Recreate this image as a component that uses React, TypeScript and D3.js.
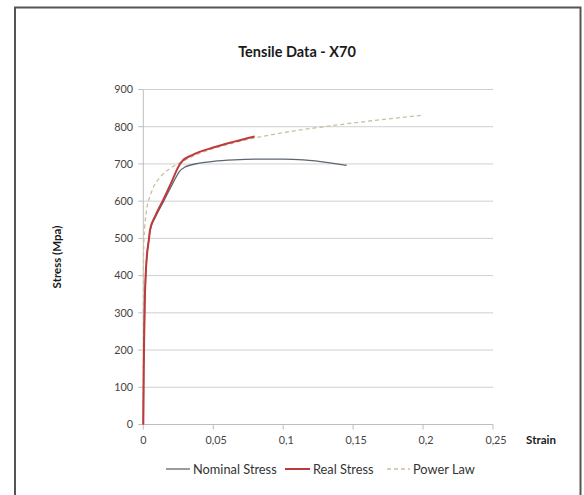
import React from "react";
import * as d3 from "d3";

const yTicks = [0, 100, 200, 300, 400, 500, 600, 700, 800, 900];
const xTicks = [0, 0.05, 0.1, 0.15, 0.2, 0.25];
const xTickLabels = ["0", "0,05", "0,1", "0,15", "0,2", "0,25"];

const nominalStrain = [0, 0.0003, 0.0007, 0.001, 0.0017, 0.0025, 0.0041, 0.0048, 0.0085, 0.0143, 0.02, 0.0235, 0.0255, 0.03, 0.04, 0.05, 0.065, 0.0858, 0.1, 0.1144, 0.1335, 0.1454];
const nominalStress = [0, 150, 250, 320, 400, 450, 500, 520, 556, 598, 640, 665, 678, 692, 702, 707, 711, 713, 713, 711, 703, 696];

const realStrain = [0, 0.0003, 0.0007, 0.001, 0.0017, 0.0025, 0.0041, 0.0048, 0.0085, 0.0143, 0.02, 0.0255, 0.028, 0.035, 0.05, 0.065, 0.0796];
const realStress = [0, 150, 250, 320, 400, 450, 500, 523, 560, 604, 650, 695, 708, 724, 744, 760, 774];

const powerStrain = [0, 0.0001, 0.0003, 0.001, 0.0025, 0.005, 0.0075, 0.01, 0.015, 0.02, 0.026, 0.04, 0.06, 0.08, 0.1, 0.125, 0.15, 0.175, 0.2];
const powerStress = [0, 420, 480, 530, 580, 615, 640, 655, 676, 690, 703, 728, 752, 770, 784, 798, 810, 821, 831];

const FONT = "Lato, 'Open Sans', sans-serif";

export default function App() {
  const x = d3.scaleLinear().domain([0, 0.25]).range([143.3, 493]);
  const y = d3.scaleLinear().domain([0, 900]).range([424.5, 89.5]);
  const line = d3
    .line<[number, number]>()
    .x((d) => x(d[0]))
    .y((d) => y(d[1]))
    .curve(d3.curveMonotoneX);
  const zip = (a: number[], b: number[]) => a.map((v, i) => [v, b[i]] as [number, number]);

  const nominalColor = "#5b6670";
  const realColor = "#bf3a3a";
  const powerColor = "#c9bf9f";

  return (
    <svg
      width={584}
      height={495}
      style={{ position: "absolute", left: 0, top: 0, background: "#fff" }}
      fontFamily={FONT}
    >
      <rect x={0} y={0} width={584} height={495} fill="#fff" />
      <rect x={15} y={7.5} width={565.5} height={500} fill="#fff" stroke="#555" strokeWidth={2} />
      <text x={297} y={57} textAnchor="middle" fontWeight="bold" fontSize={14.5} fill="#1a1a1a">
        Tensile Data -  X70
      </text>
      {/* gridlines */}
      {yTicks.map((t) => (
        <g key={t}>
          {t > 0 && (
            <line x1={x(0)} x2={x(0.25)} y1={y(t)} y2={y(t)} stroke="#cfcfcf" strokeWidth={1} />
          )}
          <line x1={x(0) - 5} x2={x(0)} y1={y(t)} y2={y(t)} stroke="#bdbdbd" strokeWidth={1} />
          <text x={133} y={y(t)} dy="0.35em" textAnchor="end" fontSize={10.8} fill="#444">
            {t}
          </text>
        </g>
      ))}
      {/* axes */}
      <line x1={x(0)} x2={x(0)} y1={y(0)} y2={y(900)} stroke="#bdbdbd" strokeWidth={1} />
      <line x1={x(0)} x2={x(0.25)} y1={y(0)} y2={y(0)} stroke="#bdbdbd" strokeWidth={1} />
      {xTicks.map((t, i) => (
        <g key={t}>
          <line x1={x(t)} x2={x(t)} y1={y(0)} y2={y(0) + 5} stroke="#bdbdbd" strokeWidth={1} />
          <text x={x(t) + (i === 0 ? 0 : 3)} y={440} dy="0.35em" textAnchor="middle" fontSize={10.8} fill="#444">
            {xTickLabels[i]}
          </text>
        </g>
      ))}
      <text x={541} y={440} dy="0.35em" textAnchor="middle" fontSize={11.5} fontWeight="bold" fill="#1a1a1a">
        Strain
      </text>
      <text
        transform="translate(57,257) rotate(-90)"
        textAnchor="middle"
        dy="0.35em"
        fontSize={11.5}
        fontWeight="bold"
        fill="#1a1a1a"
      >
        Stress (Mpa)
      </text>
      {/* series */}
      <path d={line(zip(powerStrain, powerStress)) || ""} fill="none" stroke={powerColor} strokeWidth={1.3} strokeDasharray="4,3" />
      <path d={line(zip(nominalStrain, nominalStress)) || ""} fill="none" stroke={nominalColor} strokeWidth={1.3} />
      <path d={line(zip(realStrain, realStress)) || ""} fill="none" stroke={realColor} strokeWidth={2} />
      {/* legend */}
      <g fontSize={12.8} fill="#333">
        <line x1={166} x2={190} y1={469} y2={469} stroke={nominalColor} strokeWidth={1.3} />
        <text x={193} y={470} dy="0.35em">Nominal Stress</text>
        <line x1={285} x2={310} y1={469} y2={469} stroke={realColor} strokeWidth={2} />
        <text x={313} y={470} dy="0.35em">Real Stress</text>
        <line x1={387} x2={410} y1={469} y2={469} stroke={powerColor} strokeWidth={1.3} strokeDasharray="4,3" />
        <text x={413} y={470} dy="0.35em">Power Law</text>
      </g>
    </svg>
  );
}
